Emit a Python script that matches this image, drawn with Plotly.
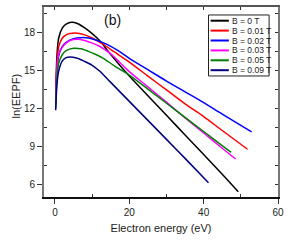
import plotly.graph_objects as go

names = ["B = 0 T", "B = 0.01 T", "B = 0.02 T", "B = 0.03 T", "B = 0.05 T", "B = 0.09 T"]
colors = ["#000000", "#FF0000", "#0000FF", "#FF00FF", "#008000", "#000080"]

x_b0 = [0.2, 0.5, 1, 2, 3, 4.5, 6, 8, 10, 12, 15, 20, 25, 30, 35, 40, 45, 49.3]
y_b0 = [12.9, 16.0, 17.6, 18.4, 18.7, 18.84, 18.75, 18.4, 17.95, 17.4, 16.3, 14.6, 13.05, 11.5, 9.95, 8.4, 6.85, 5.47]

x_b1 = [0.2, 0.5, 1, 2, 3, 4, 5.5, 8, 10, 13, 16, 20, 25, 30, 35, 40, 45, 51.8]
y_b1 = [12.7, 15.3, 16.9, 17.6, 17.85, 17.95, 18.0, 17.85, 17.6, 17.1, 16.5, 15.7, 14.6, 13.5, 12.4, 11.4, 10.3, 8.82]

x_b2 = [0.2, 0.5, 1, 2, 3, 5, 7, 9, 11, 14, 17, 20, 25, 30, 35, 40, 45, 52.9]
y_b2 = [12.4, 14.8, 16.2, 16.95, 17.25, 17.55, 17.63, 17.6, 17.45, 17.1, 16.6, 16.0, 15.1, 14.2, 13.35, 12.5, 11.6, 10.2]

x_b3 = [0.2, 0.5, 1, 2, 3, 4, 6, 8, 10, 12, 15, 20, 25, 30, 35, 40, 45, 48.6]
y_b3 = [12.5, 15.0, 16.3, 16.9, 17.2, 17.4, 17.5, 17.4, 17.2, 16.95, 16.35, 14.95, 13.75, 12.54, 11.3, 10.1, 8.9, 8.05]

x_b5 = [0.2, 0.5, 1, 2, 3, 5, 7, 9, 11, 13, 16, 20, 25, 30, 35, 40, 44, 47.4]
y_b5 = [12.1, 14.3, 15.6, 16.3, 16.6, 16.79, 16.75, 16.55, 16.3, 16.0, 15.4, 14.68, 13.57, 12.45, 11.33, 10.22, 9.33, 8.58]

x_b9 = [0.2, 0.5, 1, 2, 3, 4, 6, 8, 10, 12, 15, 20, 25, 30, 35, 41.3]
y_b9 = [11.9, 13.8, 15.0, 15.8, 16.05, 16.1, 16.0, 15.75, 15.45, 15.0, 14.1, 12.6, 11.1, 9.6, 8.1, 6.18]

xs = [x_b0, x_b1, x_b2, x_b3, x_b5, x_b9]
ys = [y_b0, y_b1, y_b2, y_b3, y_b5, y_b9]

x_ticks = [0, 20, 40, 60]
y_ticks = [6, 9, 12, 15, 18]
x_range = [-2.95, 60]
y_range = [5.05, 20.05]

FONT = "Arial, Liberation Sans, sans-serif"

fig = go.Figure()
for x, y, n, c in zip(xs, ys, names, colors):
    fig.add_trace(go.Scatter(x=x, y=y, mode="lines", name=n,
                             line=dict(color=c, width=1.5, shape="spline", smoothing=0.8),
                             showlegend=False, hoverinfo="skip"))

# invisible trace to activate mirrored (top/right) axes
fig.add_trace(go.Scatter(x=x_b0, y=y_b0, xaxis="x2", yaxis="y2", mode="lines",
                         line=dict(width=0), opacity=0, showlegend=False, hoverinfo="skip"))

fig.update_layout(
    width=291, height=241,
    margin=dict(l=44, r=11, t=7, b=44),
    paper_bgcolor="white", plot_bgcolor="white",
    font=dict(family=FONT, size=10, color="#222"),
    xaxis=dict(range=x_range, tickvals=x_ticks, ticks="outside", ticklen=5, tickwidth=1,
               tickcolor="#333", showgrid=False, zeroline=False, showline=True,
               linecolor="#111", linewidth=1.5,
               minor=dict(tickvals=[10, 30, 50], ticks="inside", ticklen=3, tickcolor="#333"),
               title=dict(text="Electron energy (eV)", font=dict(size=11, color="#222"), standoff=8),
               tickfont=dict(size=10, color="#222")),
    yaxis=dict(range=y_range, tickvals=y_ticks, ticks="outside", ticklen=5, tickwidth=1,
               tickcolor="#333", showgrid=False, zeroline=False, showline=True,
               linecolor="#777", linewidth=2,
               minor=dict(tickvals=[7.5, 10.5, 13.5, 16.5, 19.5], ticks="inside", ticklen=3, tickcolor="#333"),
               tickfont=dict(size=10, color="#222")),
    xaxis2=dict(range=x_range, overlaying="x", side="top", tickvals=[0, 10, 20, 30, 40, 50, 60],
                ticks="inside", ticklen=3, tickcolor="#333", showticklabels=False,
                showgrid=False, zeroline=False, showline=True, linecolor="#555", linewidth=1.5),
    yaxis2=dict(range=y_range, overlaying="y", side="right",
                tickvals=[6, 7.5, 9, 10.5, 12, 13.5, 15, 16.5, 18, 19.5],
                ticks="inside", ticklen=3, tickcolor="#333", showticklabels=False,
                showgrid=False, zeroline=False, showline=True, linecolor="#777", linewidth=2),
)

# y-axis title
fig.add_annotation(text="ln(EEPF)", x=-0.119, y=0.53, xref="paper", yref="paper",
                   textangle=-90, showarrow=False, font=dict(size=11, color="#222"),
                   xanchor="center", yanchor="middle")
# panel label
fig.add_annotation(text="(b)", x=0.292, y=0.93, xref="paper", yref="paper",
                   showarrow=False, font=dict(size=14, color="#111"),
                   xanchor="center", yanchor="middle")

# manual legend (compact, like the original)
lx0, lx1 = 0.703, 0.962
ly_top, ly_bot = 0.958, 0.637
fig.add_shape(type="rect", xref="paper", yref="paper", x0=lx0, x1=lx1, y0=ly_bot, y1=ly_top,
              line=dict(color="#222", width=1), fillcolor="white", layer="above")
for i, (n, c) in enumerate(zip(names, colors)):
    yy = (197 - (20.7 + 9.9 * i)) / 190
    fig.add_shape(type="line", xref="paper", yref="paper", x0=0.712, x1=0.790, y0=yy, y1=yy,
                  line=dict(color=c, width=2), layer="above")
    fig.add_annotation(text=n, x=0.797, y=yy, xref="paper", yref="paper", showarrow=False,
                       xanchor="left", yanchor="middle", font=dict(size=8.5, color="#222"))

fig.write_html("out.html", config={"displayModeBar": False},
               post_script="document.body.style.margin='0px';")
